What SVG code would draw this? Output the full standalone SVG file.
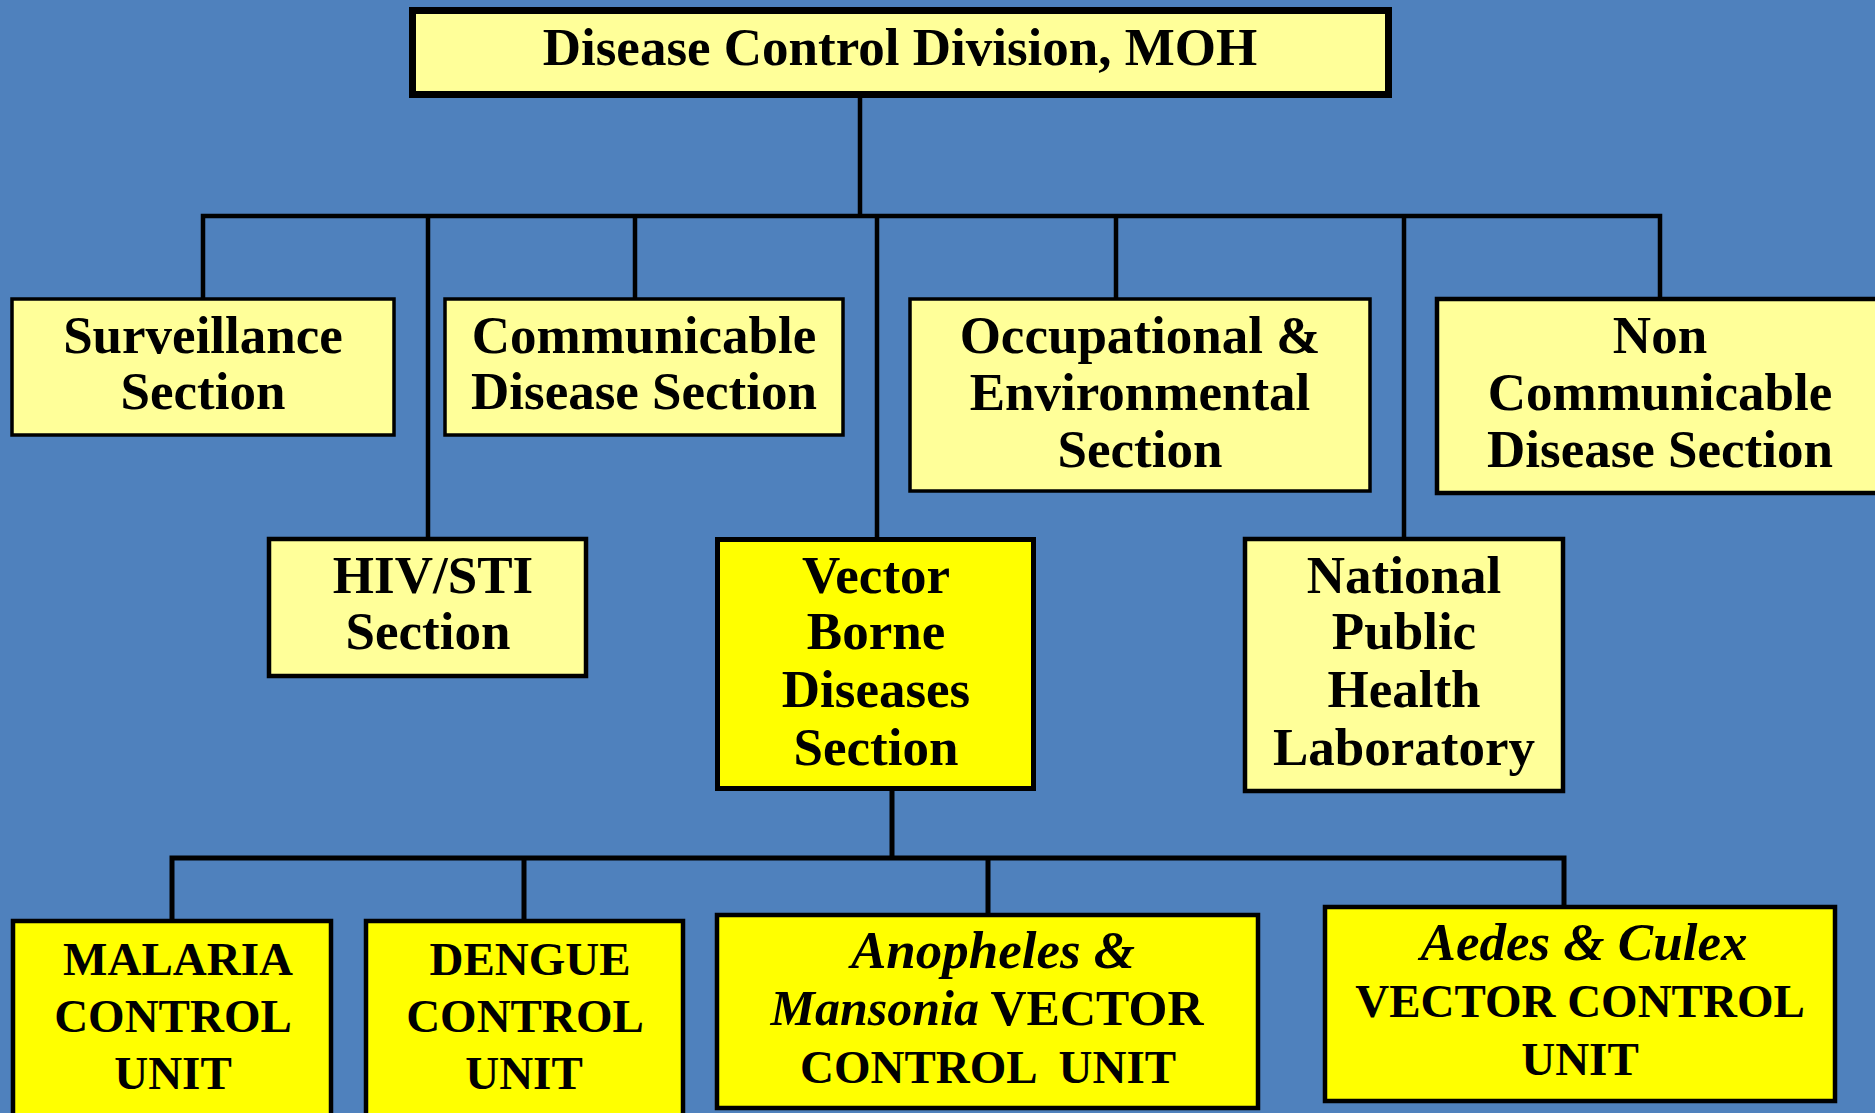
<svg xmlns="http://www.w3.org/2000/svg" width="1875" height="1113" viewBox="0 0 1875 1113">
<style>
.bg{fill:#4F81BD}
.lt{fill:#FFFF99;stroke:#000}
.yl{fill:#FFFF00;stroke:#000}
.c{fill:none;stroke:#000;stroke-width:4.5;stroke-linecap:square;stroke-linejoin:miter}
text{font-family:"Liberation Serif","Times New Roman",serif;font-weight:bold;font-size:53px;fill:#000;text-anchor:middle}
.i{font-style:italic}
.cap{font-size:47px}
.m{font-size:50px}
</style>
<rect class="bg" x="0" y="0" width="1875" height="1113"/>
<g id="connectors">
<path class="c" d="M860,98 V216 M203,297 V216 H1660 V297 M428,216 V537 M635,216 V297 M877,216 V537 M1116,216 V297 M1404,216 V537"/>
<path class="c" d="M892,791 V858 M172,919 V858 H1564 V905 M524,858 V919 M988,858 V913" style="stroke-width:5"/>
</g>
<g id="n-top">
<rect class="lt" x="412.5" y="10.5" width="976" height="84" stroke-width="7"/>
<text x="900" y="65">Disease Control Division, MOH</text>
</g>
<g id="n-surveillance">
<rect class="lt" x="12" y="299" width="382" height="136" stroke-width="3.5"/>
<text x="203" y="353">Surveillance</text>
<text x="203" y="409">Section</text>
</g>
<g id="n-communicable">
<rect class="lt" x="445" y="299" width="398" height="136" stroke-width="3.5"/>
<text x="644" y="353">Communicable</text>
<text x="644" y="409">Disease Section</text>
</g>
<g id="n-occupational">
<rect class="lt" x="910" y="299" width="460" height="192" stroke-width="3.5"/>
<text x="1140" y="353">Occupational &amp;</text>
<text x="1140" y="410">Environmental</text>
<text x="1140" y="467">Section</text>
</g>
<g id="n-noncommunicable">
<rect class="lt" x="1437" y="299" width="450" height="194" stroke-width="4.5"/>
<text x="1660" y="353">Non</text>
<text x="1660" y="410">Communicable</text>
<text x="1660" y="467">Disease Section</text>
</g>
<g id="n-hiv">
<rect class="lt" x="269" y="539" width="317" height="137" stroke-width="4.5"/>
<text x="433" y="593">HIV/STI</text>
<text x="428" y="649">Section</text>
</g>
<g id="n-vector">
<rect class="yl" x="717.5" y="539.5" width="316" height="249" stroke-width="5"/>
<text x="876" y="593">Vector</text>
<text x="876" y="649">Borne</text>
<text x="876" y="707">Diseases</text>
<text x="876" y="765">Section</text>
</g>
<g id="n-nphl">
<rect class="lt" x="1245" y="539" width="318" height="252" stroke-width="4.5"/>
<text x="1404" y="593">National</text>
<text x="1404" y="649">Public</text>
<text x="1404" y="707">Health</text>
<text x="1404" y="765">Laboratory</text>
</g>
<g id="n-malaria">
<rect class="yl" x="13" y="921" width="318" height="200" stroke-width="4.5"/>
<text x="178" y="975" class="cap">MALARIA</text>
<text x="173" y="1032" class="cap">CONTROL</text>
<text x="173" y="1089" class="cap">UNIT</text>
</g>
<g id="n-dengue">
<rect class="yl" x="366" y="921" width="317" height="200" stroke-width="4.5"/>
<text x="530" y="975" class="cap">DENGUE</text>
<text x="525" y="1032" class="cap">CONTROL</text>
<text x="524" y="1089" class="cap">UNIT</text>
</g>
<g id="n-anopheles">
<rect class="yl" x="717" y="915" width="541" height="193" stroke-width="4.5"/>
<text x="993" y="968" class="i">Anopheles &amp;</text>
<text x="987" y="1025" class="m"><tspan class="i">Mansonia</tspan> VECTOR</text>
<text x="988" y="1083" class="cap" xml:space="preserve">CONTROL  UNIT</text>
</g>
<g id="n-aedes">
<rect class="yl" x="1325" y="907" width="510" height="194" stroke-width="4.5"/>
<text x="1584" y="960" class="i">Aedes &amp; Culex</text>
<text x="1580" y="1017" class="cap">VECTOR CONTROL</text>
<text x="1580" y="1075" class="cap">UNIT</text>
</g>
</svg>
